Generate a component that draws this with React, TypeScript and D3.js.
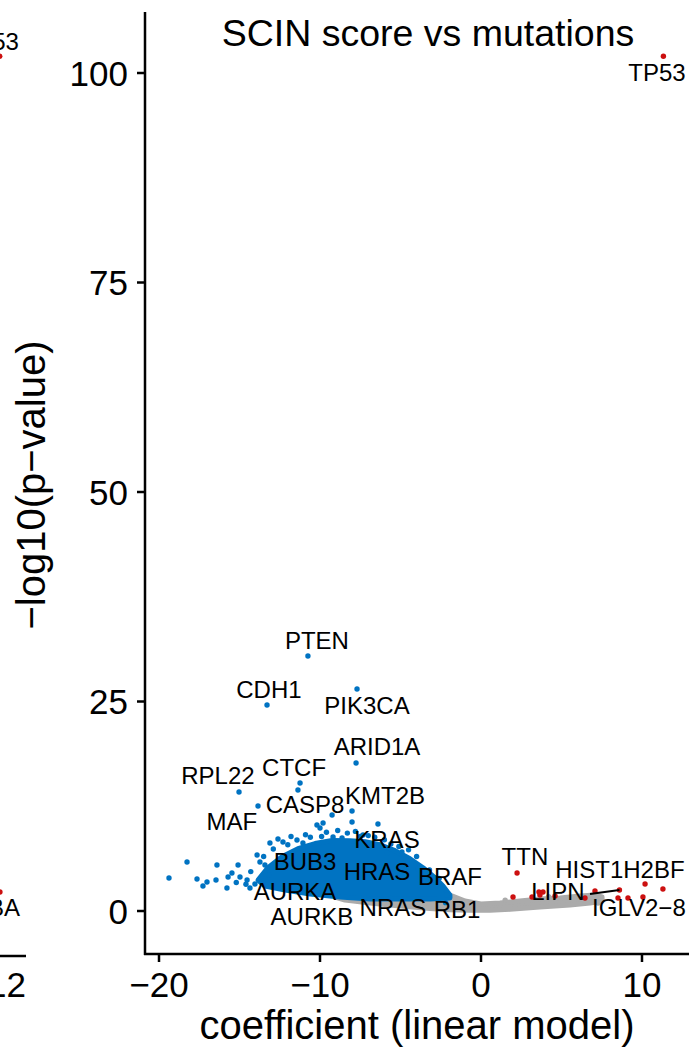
import React from 'react';
import * as d3 from 'd3';

// ---------- data ----------
const xTicks = [-20, -10, 0, 10];
const yTicks = [0, 25, 50, 75, 100];

// dense cloud outlines (coefficient, -log10 p)
const greyCloud: [number, number][] = [
  [-9.07, 2.15], [-1.93, 1.91], [-0.99, 1.19], [0, 0.84], [1.18, 0.95], [2.42, 1.19],
  [3.66, 1.43], [4.91, 1.55], [6.15, 1.79], [7.08, 1.91], [7.52, 1.67],
  [7.52, 1.19], [6.77, 0.95], [5.53, 0.72], [3.66, 0.48], [1.8, 0.2], [0.56, 0.1],
  [-0.68, 0.1], [-1.93, 0.15], [-3.17, 0.3], [-5.03, 0.6], [-6.89, 0.95], [-8.45, 1.31], [-9.07, 1.67],
];
const blueCloud: [number, number][] = [
  [-13.85, 3.7], [-13.23, 5.17], [-12.36, 6.48], [-11.37, 7.44], [-10.31, 8.05], [-9.25, 8.41],
  [-8.14, 8.39], [-7.2, 8.27], [-6.27, 7.91], [-5.34, 7.2], [-4.41, 6.24], [-3.6, 5.17],
  [-2.92, 4.08], [-2.36, 2.98], [-1.93, 1.91], [-1.93, 1.55], [-3.17, 1.43], [-5.03, 1.43],
  [-6.89, 1.43], [-8.76, 1.67], [-10.62, 2.03], [-12.17, 2.51], [-13.42, 2.98],
];

// scattered individual points
const blueScatter: [number, number][] = [
  [-19.38, 3.94], [-18.26, 5.85], [-17.64, 3.82], [-17.27, 2.98], [-17.02, 3.46], [-16.4, 5.49],
  [-16.46, 3.7], [-15.78, 2.74], [-15.71, 4.06], [-15.47, 4.53], [-15.09, 5.49], [-14.97, 4.06],
  [-14.53, 3.7], [-14.35, 2.74], [-14.04, 3.22], [-13.91, 6.68], [-13.73, 5.85], [-13.42, 5.49],
  [-13.11, 8.11], [-12.61, 8.59], [-12.3, 8.23], [-11.43, 8.47], [-11.06, 8.11], [-10.19, 10.26],
  [-10.0, 9.9], [-9.81, 10.5], [-8.01, 10.62], [-6.4, 10.38], [-10.31, 7.64], [-9.19, 8.83],
  [-8.63, 8.71], [-6.89, 7.88], [-5.84, 6.92], [-4.91, 7.04], [-3.91, 5.01], [-2.55, 2.86],
  [-2.11, 1.91], [-11.37, 14.44],
  [-11.8, 8.9], [-10.9, 9.1], [-9.6, 9.4], [-8.9, 9.6], [-8.3, 9.3], [-7.8, 9.5], [-7.0, 9.0],
  [-6.6, 8.8], [-5.6, 8.0], [-4.5, 7.3], [-12.9, 7.4], [-13.5, 6.5], [-3.2, 4.9], [-2.6, 3.9],
  [-12.0, 7.9], [-10.6, 8.8], [-9.9, 8.9], [-7.5, 8.9], [-6.0, 8.5], [-5.1, 7.7], [-4.0, 6.5],
  [-14.3, 4.7], [-14.6, 3.2], [-13.2, 4.3], [-12.6, 5.9], [-15.2, 3.4],
];
const redScatter: [number, number][] = [
  [1.99, 1.67], [3.17, 1.67], [3.6, 2.27], [3.85, 2.27], [3.66, 1.91], [4.6, 1.79],
  [6.46, 1.55], [7.08, 2.39], [8.51, 1.55], [10.06, 1.67], [11.3, 2.63],
];
const greyScatter: [number, number][] = [[6.34, 1.31], [7.27, 0.95], [1.5, 1.3], [4.2, 1.7]];

// labelled genes
const geneNames = ['TP53', 'PTEN', 'CDH1', 'PIK3CA', 'ARID1A', 'CTCF', 'RPL22', 'MAF', 'CASP8', 'KMT2B',
  'KRAS', 'BUB3', 'HRAS', 'BRAF', 'AURKA', 'NRAS', 'RB1', 'AURKB', 'TTN', 'HIST1H2BF', 'LIPN', 'IGLV2\u22128'];
const geneCoef = [11.33, -10.75, -13.29, -7.7, -7.76, -11.24, -15.03, -13.85, -9.25, -8.01,
  -7.33, -10.6, -6.5, -3.0, -11.0, -5.6, -2.2, -9.8, 2.24, 10.19, 8.6, 9.13];
const geneLogP = [102.0, 30.43, 24.58, 26.49, 17.66, 15.27, 14.2, 12.53, 11.46, 11.93,
  9.07, 6.0, 5.5, 3.5, 3.0, 1.5, 1.0, 2.0, 4.53, 3.22, 2.5, 1.55];
// repelled label positions (data units)
const labelCoef = [10.93, -10.19, -13.17, -7.08, -6.46, -11.61, -16.34, -15.47, -10.93, -5.96,
  -5.84, -10.93, -6.46, -1.93, -11.55, -5.47, -1.49, -10.5, 2.73, 8.63, 4.78, 9.81];
const labelLogP = [100.0, 32.22, 26.37, 24.46, 19.57, 17.06, 16.11, 10.62, 12.65, 13.72,
  8.47, 5.85, 4.65, 4.06, 2.27, 0.36, 0.12, -0.72, 6.44, 4.89, 2.27, 0.36];
const segmentGene = 'LIPN';
const segmentStart: [number, number] = [6.77, 2.03];

// neighbouring panel remnant (left edge)
const prevPoints: [number, number][] = [[11.55, 102.0], [11.56, 2.27]];
const prevLabels = ['TP53', 'BA'];
const prevLabelPos: [number, number][] = [[12.74, 103.8], [12.8, 0.36]];
const prevTick = 12;

const BLUE = '#0073C2';
const RED = '#CC1010';
const GREY = '#ABABAB';
const FONT = 'Liberation Sans, Arial, Helvetica, sans-serif';

export default function App() {
  const W = 689, H = 1053;
  const x = d3.scaleLinear().domain([-20.87, 12.92]).range([145, 689]);
  const y = d3.scaleLinear().domain([-5.13, 107.28]).range([954, 12]);
  const px = d3.scaleLinear().domain([12, 13.18]).range([7, 26]);

  const area = d3.line<[number, number]>()
    .x(d => x(d[0])).y(d => y(d[1]))
    .curve(d3.curveLinearClosed);

  const r = 2.7;
  const segIdx = geneNames.indexOf(segmentGene);

  return (
    <div style={{ position: 'absolute', left: 0, top: 0 }}>
      <svg width={W} height={H} style={{ display: 'block', background: '#fff' }} fontFamily={FONT}>
        {/* previous panel remnant */}
        <line x1={0} x2={px(13.18)} y1={956} y2={956} stroke="#000" strokeWidth={2.5} />
        <text x={px(prevTick) + 19} y={997} fontSize={35} textAnchor="end">{String(prevTick)}</text>
        {prevPoints.map((d, i) => (
          <circle key={'pp' + i} cx={px(d[0])} cy={y(d[1])} r={r} fill={RED} />
        ))}
        {prevLabels.map((t, i) => (
          <text key={'pl' + i} x={px(prevLabelPos[i][0])} y={y(prevLabelPos[i][1])} dy="0.35em"
            fontSize={24} textAnchor="end">{t}</text>
        ))}

        {/* clouds */}
        <path d={area(greyCloud) || ''} fill={GREY} stroke={GREY} strokeWidth={5} strokeLinejoin="round" />
        {greyScatter.map((d, i) => (
          <circle key={'g' + i} cx={x(d[0])} cy={y(d[1])} r={r} fill={GREY} />
        ))}
        <path d={area(blueCloud) || ''} fill={BLUE} stroke={BLUE} strokeWidth={5} strokeLinejoin="round" />
        {blueScatter.map((d, i) => (
          <circle key={'b' + i} cx={x(d[0])} cy={y(d[1])} r={r} fill={BLUE} />
        ))}
        {redScatter.map((d, i) => (
          <circle key={'r' + i} cx={x(d[0])} cy={y(d[1])} r={r} fill={RED} />
        ))}
        {geneNames.map((g, i) => (
          <circle key={'gp' + i} cx={x(geneCoef[i])} cy={y(geneLogP[i])} r={r}
            fill={geneCoef[i] > 0 ? RED : BLUE} />
        ))}

        {/* repel segment */}
        <line x1={x(segmentStart[0])} y1={y(segmentStart[1])} x2={x(geneCoef[segIdx])} y2={y(geneLogP[segIdx])}
          stroke="#000" strokeWidth={2} />

        {/* labels */}
        {geneNames.map((g, i) => (
          <text key={'lab' + i} x={x(labelCoef[i])} y={y(labelLogP[i])} dy="0.35em"
            fontSize={24} textAnchor="middle" fill="#000">{g}</text>
        ))}

        {/* axes */}
        <line x1={145} x2={145} y1={12} y2={955} stroke="#000" strokeWidth={2.5} />
        <line x1={144} x2={689} y1={954} y2={954} stroke="#000" strokeWidth={2.5} />
        {yTicks.map(t => (
          <g key={'yt' + t}>
            <line x1={137} x2={145} y1={y(t)} y2={y(t)} stroke="#000" strokeWidth={2.5} />
            <text x={128} y={y(t)} dy="0.36em" fontSize={35} textAnchor="end">{String(t)}</text>
          </g>
        ))}
        {xTicks.map(t => (
          <g key={'xt' + t}>
            <line x1={x(t)} x2={x(t)} y1={954} y2={962} stroke="#000" strokeWidth={2.5} />
            <text x={x(t)} y={997} fontSize={35} textAnchor="middle">{t < 0 ? '\u2212' + Math.abs(t) : String(t)}</text>
          </g>
        ))}

        <text x={417} y={1039} fontSize={40} textAnchor="middle">coefficient (linear model)</text>
        <text transform={`translate(45,485) rotate(-90)`} fontSize={40} textAnchor="middle">{'\u2212log10(p\u2212value)'}</text>
        <text x={428} y={46} fontSize={37.5} textAnchor="middle">SCIN score vs mutations</text>
      </svg>
    </div>
  );
}
